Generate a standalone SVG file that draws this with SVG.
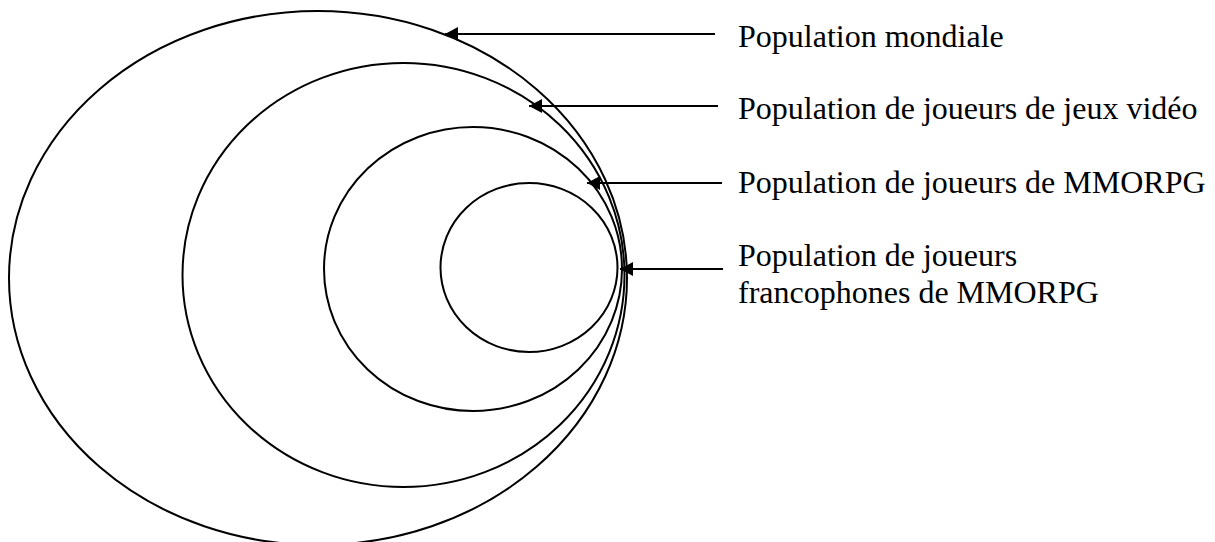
<svg xmlns="http://www.w3.org/2000/svg" width="1215" height="542" viewBox="0 0 1215 542">
<style>
.e{fill:none;stroke:#000;stroke-width:2}
.c{fill:none;stroke:#000;stroke-width:2}
.t{font-family:"Liberation Serif","Times New Roman",serif;font-size:32px;fill:#000}
</style>
<defs>
<marker id="ah" markerUnits="userSpaceOnUse" markerWidth="14" markerHeight="14" refX="13" refY="7" orient="auto">
<path d="M0,0 L13,7 L0,14 Z" fill="#000"/>
</marker>
</defs>
<rect width="1215" height="542" fill="#fff"/>
<g id="monde"><ellipse class="e" cx="318" cy="278" rx="309" ry="267"/></g>
<g id="joueurs"><ellipse class="e" cx="403.5" cy="275" rx="221" ry="212"/></g>
<g id="mmorpg"><ellipse class="e" cx="473" cy="269" rx="149" ry="142"/></g>
<g id="franco"><ellipse class="e" cx="529" cy="267.5" rx="88.5" ry="84.5"/></g>
<g id="connectors">
<line class="c" x1="715" y1="34" x2="445" y2="34" marker-end="url(#ah)"/>
<line class="c" x1="718" y1="106" x2="529" y2="106" marker-end="url(#ah)"/>
<line class="c" x1="722" y1="183" x2="587" y2="183" marker-end="url(#ah)"/>
<line class="c" x1="723" y1="269" x2="620" y2="269" marker-end="url(#ah)"/>
</g>
<g id="labels">
<text class="t" x="738" y="47">Population mondiale</text>
<text class="t" x="738" y="119">Population de joueurs de jeux vidéo</text>
<text class="t" x="738" y="193">Population de joueurs de MMORPG</text>
<text class="t" x="738" y="266">Population de joueurs</text>
<text class="t" x="738" y="303">francophones de MMORPG</text>
</g>
</svg>
